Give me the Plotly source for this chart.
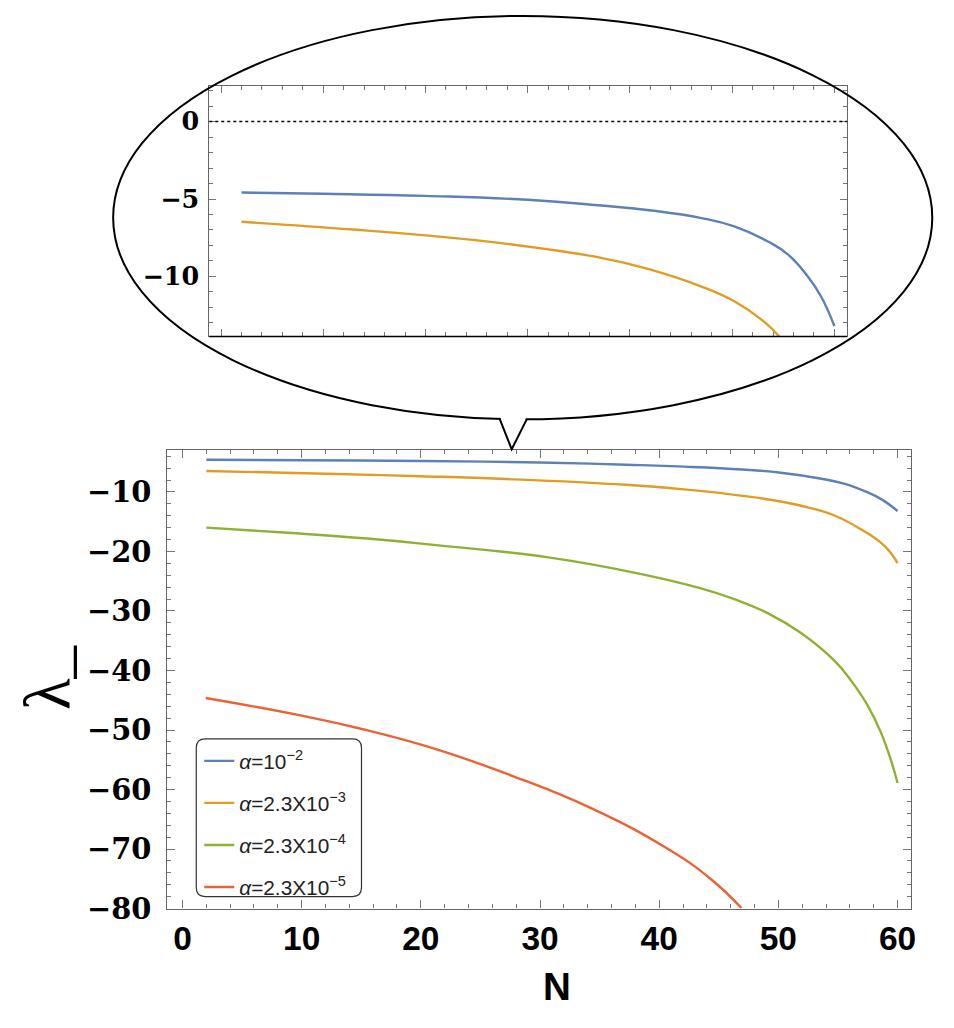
import plotly.graph_objects as go

W, H = 954, 1028
# the photographed page comes out slightly reduced; reference pixel positions are mapped through these
SX, SY = 0.9934, 0.985

# ---- data ----
n_blue = [2, 10, 20, 30, 37.2, 42.1, 47, 50.2, 53.5, 55.5, 57.4, 58.7, 60]
l_blue = [-4.58, -4.66, -4.8, -5.05, -5.42, -5.74, -6.23, -6.77, -7.74, -8.6, -10.0, -11.29, -13.2]

n_orange = [2, 12.9, 20, 27.2, 37.2, 42.1, 47, 50.2, 52.8, 54.6, 56.7, 58.9, 60]
l_orange = [-6.47, -6.97, -7.35, -7.83, -8.8, -9.57, -10.65, -11.6, -12.75, -13.87, -16.0, -19.06, -21.96]

n_green = [2, 8.5, 15.5, 21.1, 30.7, 38.5, 43.5, 46.3, 49.1, 51.9, 54.7, 56.1, 57.5, 58.6, 59.5, 60]
l_green = [-16.0, -16.81, -17.82, -18.89, -21.0, -23.8, -26.2, -28.0, -30.35, -33.7, -38.35,
           -41.7, -45.9, -50.4, -55.4, -58.9]

n_red = [1.95, 10, 14.8, 21.2, 27.6, 34.1, 40.5, 44.3, 46.9]
l_red = [-44.61, -47.58, -49.7, -53.17, -57.65, -62.95, -69.7, -74.98, -79.9]

names = ["<i>α</i>=10<sup>−2</sup>", "<i>α</i>=2.3X10<sup>−3</sup>",
         "<i>α</i>=2.3X10<sup>−4</sup>", "<i>α</i>=2.3X10<sup>−5</sup>"]
colors = ["#5E81B5", "#E19C24", "#8FB032", "#EB6235"]

x_ticks = [0, 10, 20, 30, 40, 50, 60]
y_ticks = [-10, -20, -30, -40, -50, -60, -70, -80]
inset_y_ticks = [0, -5, -10]


def px(x):
    return x / (W * SX)


def py(y):
    return 1 - y / (H * SY)


def fs(s):
    return round(s / SY, 1)


series = [(n_blue, l_blue), (n_orange, l_orange), (n_green, l_green), (n_red, l_red)]

fig = go.Figure()
for i, (nx, ly) in enumerate(series):
    fig.add_trace(go.Scatter(x=nx, y=ly, mode="lines", name=names[i],
                             line=dict(color=colors[i], width=2.4, shape="spline", smoothing=1.3),
                             legendgroup=f"g{i}", xaxis="x", yaxis="y"))
for i in range(2):
    nx, ly = series[i]
    fig.add_trace(go.Scatter(x=nx, y=ly, mode="lines", showlegend=False,
                             line=dict(color=colors[i], width=2.4, shape="spline", smoothing=1.3),
                             xaxis="x2", yaxis="y2"))

frame = "#666666"
tickc = "#777777"

fig.update_layout(
    width=W, height=H,
    margin=dict(l=0, r=0, t=0, b=0),
    paper_bgcolor="white", plot_bgcolor="white",
    showlegend=True,
    legend=dict(x=px(199), y=py(742), xanchor="left", yanchor="top",
                bgcolor="rgba(0,0,0,0)", borderwidth=0, tracegroupgap=12,
                font=dict(family="Liberation Sans, Arial, sans-serif", size=fs(20.5), color="#222")),
    xaxis=dict(domain=[px(167), px(910)], range=[-1.28, 61.15], anchor="y",
               tickmode="array", tickvals=x_ticks, ticks="inside", ticklen=8, tickwidth=1,
               tickcolor=tickc, showline=True, linecolor=frame, linewidth=1.2, mirror="ticks",
               minor=dict(dtick=2, tick0=0, ticks="inside", ticklen=4, tickcolor=tickc),
               showgrid=False, zeroline=False, ticklabelstandoff=0,
               tickfont=dict(family="Liberation Sans, Arial, sans-serif",
                             size=fs(33), color="black", weight="bold")),
    yaxis=dict(domain=[py(910), py(451)], range=[-80, -3.0], anchor="x",
               tickmode="array", tickvals=y_ticks, ticks="inside", ticklen=8, tickwidth=1,
               tickcolor=tickc, showline=True, linecolor=frame, linewidth=1.2, mirror="ticks",
               minor=dict(dtick=2, tick0=0, ticks="inside", ticklen=4, tickcolor=tickc),
               showgrid=False, zeroline=False, ticklabelstandoff=9,
               tickfont=dict(family="DejaVu Serif, serif", size=fs(28.5), color="black", weight="bold")),
    xaxis2=dict(domain=[px(209), px(846)], range=[-1.15, 61.25], anchor="y2",
                tickmode="array", tickvals=x_ticks, ticks="inside", ticklen=7, tickwidth=1,
                tickcolor=tickc, showline=True, linecolor=frame, linewidth=1.2, mirror="ticks",
                minor=dict(dtick=2, tick0=0, ticks="inside", ticklen=4, tickcolor=tickc),
                showgrid=False, zeroline=False, showticklabels=False),
    yaxis2=dict(domain=[py(337), py(86)], range=[-13.87, 2.3], anchor="x2",
                tickmode="array", tickvals=inset_y_ticks, ticks="inside", ticklen=7, tickwidth=1,
                tickcolor=tickc, showline=True, linecolor=frame, linewidth=1.2, mirror="ticks",
                minor=dict(dtick=1, tick0=0, ticks="inside", ticklen=4, tickcolor=tickc),
                showgrid=False, zeroline=False, ticklabelstandoff=4,
                tickfont=dict(family="DejaVu Serif, serif", size=fs(25), color="black", weight="bold")),
)

shapes = []
# callout ellipse
shapes.append(dict(type="circle", xref="paper", yref="paper",
                   x0=px(113), x1=px(931), y0=py(420), y1=py(16),
                   line=dict(color="black", width=2), fillcolor="rgba(0,0,0,0)", layer="above"))
# white patch to open the ellipse for the pointer
shapes.append(dict(type="path", xref="paper", yref="paper",
                   path=f"M {px(500)},{py(414)} L {px(525)},{py(414)} L {px(525)},{py(424)} L {px(500)},{py(424)} Z",
                   fillcolor="white", line=dict(width=0), layer="above"))
# pointer
shapes.append(dict(type="path", xref="paper", yref="paper",
                   path=f"M {px(499)},{py(419.5)} L {px(511)},{py(450)} L {px(526)},{py(420)}",
                   line=dict(color="black", width=2), layer="above"))
# dotted zero line in inset
shapes.append(dict(type="line", xref="x2 domain", yref="y2", x0=0, x1=1, y0=0, y1=0,
                   line=dict(color="black", width=1.5, dash="dot")))
# inset bottom frame (black)
shapes.append(dict(type="line", xref="x2 domain", yref="y2 domain", x0=0, x1=1, y0=0, y1=0,
                   line=dict(color="black", width=1.5)))

# rounded legend box
x0, x1, y0, y1, r = 196, 361, 740, 898, 9
path = (f"M {px(x0 + r)},{py(y0)} L {px(x1 - r)},{py(y0)} Q {px(x1)},{py(y0)} {px(x1)},{py(y0 + r)} "
        f"L {px(x1)},{py(y1 - r)} Q {px(x1)},{py(y1)} {px(x1 - r)},{py(y1)} "
        f"L {px(x0 + r)},{py(y1)} Q {px(x0)},{py(y1)} {px(x0)},{py(y1 - r)} "
        f"L {px(x0)},{py(y0 + r)} Q {px(x0)},{py(y0)} {px(x0 + r)},{py(y0)} Z")
shapes.append(dict(type="path", xref="paper", yref="paper", path=path,
                   fillcolor="white", line=dict(color="#333", width=1.2), layer="above"))
fig.update_layout(shapes=shapes)

fig.add_annotation(x=px(556), y=py(988), xref="paper", yref="paper", text="N", showarrow=False,
                   xanchor="center", yanchor="middle",
                   font=dict(family="Liberation Sans, Arial, sans-serif",
                             size=fs(38), color="black", weight="bold"))
fig.add_annotation(x=px(47), y=py(678), xref="paper", yref="paper", text="λ_",
                   showarrow=False, textangle=-90, xanchor="center", yanchor="middle",
                   font=dict(family="Liberation Serif, serif", size=fs(64), color="black"))

fig.write_html(
    "out.html",
    config={"displayModeBar": False},
    post_script=("document.body.style.margin='0px';"
                 "document.documentElement.style.overflow='hidden';"
                 "document.body.style.overflow='hidden';"),
)
